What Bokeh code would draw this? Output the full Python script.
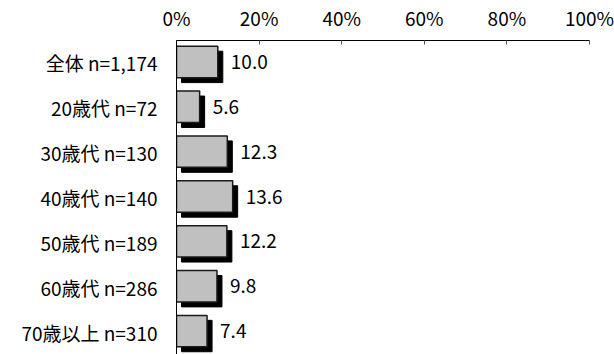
from bokeh.plotting import figure
from bokeh.models import ColumnDataSource, Range1d, FixedTicker, CustomJSTickFormatter
from bokeh.core.properties import value
from bokeh.embed import file_html
from bokeh.resources import INLINE

# Age groups and the share (%) in each
categories = ["全体 n=1,174", "20歳代 n=72", "30歳代 n=130", "40歳代 n=140",
              "50歳代 n=189", "60歳代 n=286", "70歳以上 n=310"]
values = [10.0, 5.6, 12.3, 13.6, 12.2, 9.8, 7.4]
x_ticks = [0, 20, 40, 60, 80, 100]

FONT = "'Noto Sans CJK JP'"
W, H = 614, 354
LEFT, RIGHT, TOP = 176, 25, 38
plot_w = W - LEFT - RIGHT
plot_h = H - TOP
n = len(categories)
px_x = 100.0 / plot_w          # data units per pixel, x
px_y = n / plot_h              # data units per pixel, y
shadow = 5                     # drop-shadow offset in pixels
bar_h = 0.70

ys = list(range(n))
src = ColumnDataSource(dict(
    y=ys,
    v=values,
    label=[f"{v:.1f}" for v in values],
    by=[y - 1.0 * px_y for y in ys],
    sy=[y + (shadow - 1.0) * px_y for y in ys],
    sl=[shadow * px_x] * n,
    sr=[v + shadow * px_x for v in values],
    tx=[v + 13 * px_x for v in values],
    ty=[y - 1.0 * px_y for y in ys],
))

p = figure(width=W, height=H, output_backend="svg", toolbar_location=None,
           x_range=Range1d(0, 100), y_range=Range1d(n - 0.5, -0.5),
           x_axis_location="above", min_border_left=LEFT, min_border_right=RIGHT,
           min_border_top=TOP, min_border_bottom=0)
p.outline_line_color = None
p.grid.visible = False
p.background_fill_color = "white"
p.border_fill_color = "white"

# shadow first, then the bar on top
p.hbar(y="sy", left="sl", right="sr", height=bar_h, source=src,
       fill_color="black", line_color="black")
p.hbar(y="by", left=0, right="v", height=bar_h, source=src,
       fill_color="#C0C0C0", line_color="#1a1a1a", line_width=1.5)

p.text(x="tx", y="ty", text="label", source=src, text_font=value(FONT),
       text_font_size="19px", text_baseline="middle", text_align="left",
       text_color="black")

xa = p.xaxis[0]
xa.ticker = FixedTicker(ticks=x_ticks)
xa.formatter = CustomJSTickFormatter(code="return tick + '%';")
xa.major_label_text_font = FONT
xa.major_label_text_font_size = "19px"
xa.major_label_text_color = "black"
xa.major_label_standoff = 10
xa.major_tick_in = 4
xa.major_tick_out = 0
xa.minor_tick_line_color = None
xa.axis_line_color = "black"
xa.major_tick_line_color = "#555555"

ya = p.yaxis[0]
ya.ticker = FixedTicker(ticks=ys)
ya.major_label_overrides = {i: c for i, c in enumerate(categories)}
ya.major_label_text_font = FONT
ya.major_label_text_font_size = "19px"
ya.major_label_text_color = "black"
ya.major_label_standoff = 19
ya.major_tick_in = 0
ya.major_tick_out = 0
ya.minor_tick_line_color = None
ya.axis_line_color = "black"

open("out.html", "w").write(file_html(p, INLINE))
